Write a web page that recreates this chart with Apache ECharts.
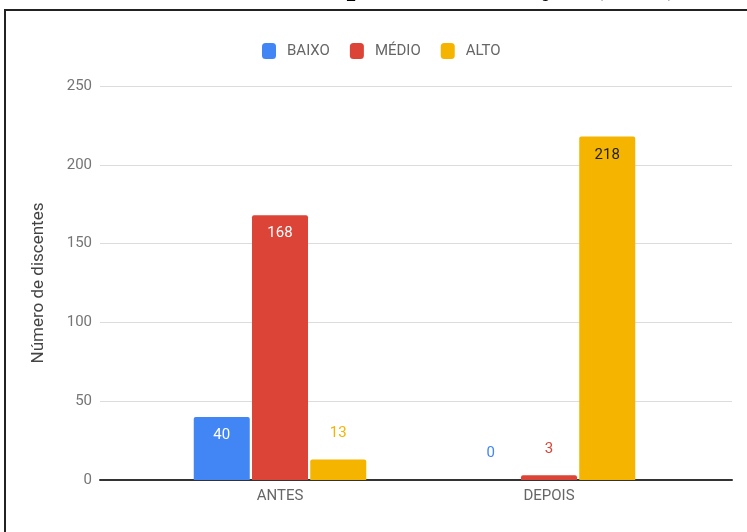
<!DOCTYPE html>
<html>
<head>
<meta charset="utf-8">
<script src="https://cdn.jsdelivr.net/npm/echarts@6/dist/echarts.min.js"></script>
<style>
html,body{margin:0;padding:0;background:#fff;}
#c{width:747px;height:532px;}
</style>
</head>
<body>
<div id="c"></div>
<script>
const titleText = 'sobre o NV antes e após a intervenção (2024)';
const categories = ['ANTES', 'DEPOIS'];
const seriesNames = ['BAIXO', 'MÉDIO', 'ALTO'];
const baixo = [40, 0];
const medio = [168, 3];
const alto = [13, 218];
const yTicks = [0, 50, 100, 150, 200, 250];
const yName = 'Número de discentes';

const colors = ['#4285f4', '#db4437', '#f4b400'];
const font = 'Roboto, "Noto Sans", sans-serif';

function mkData(values, sIdx) {
  return values.map(function (v) {
    const inside = v >= 30;
    const lblColor = inside ? (sIdx === 2 ? '#222' : '#fff') : colors[sIdx];
    return {
      value: v,
      label: {
        show: true,
        position: inside ? 'insideTop' : 'top',
        distance: inside ? 11 : 19,
        color: lblColor,
        fontFamily: font,
        fontSize: 15
      }
    };
  });
}

const chart = echarts.init(document.getElementById('c'), null, {renderer: 'canvas'});
const seriesData = [baixo, medio, alto];
chart.setOption({
  backgroundColor: '#fff',
  animation: false,
  color: colors,
  title: {
    text: titleText,
    left: 'center',
    top: -35,
    textStyle: {fontFamily: '"Liberation Serif", serif', fontWeight: 'bold', fontSize: 32, color: '#000'}
  },
  graphic: [{
    type: 'rect',
    shape: {x: 5, y: 10, width: 800, height: 600},
    style: {fill: 'none', stroke: '#222', lineWidth: 2},
    silent: true,
    z: 100
  }],
  legend: {
    top: 38,
    left: 257,
    itemWidth: 14,
    itemHeight: 16,
    itemGap: 20,
    icon: 'roundRect',
    textStyle: {fontFamily: font, fontSize: 15, color: '#666', padding: [0, 0, 0, 6]},
    data: seriesNames
  },
  grid: [
    {left: 100, right: 15, top: 86, bottom: 52},
    {left: 145.5, right: 63.5, top: 86, bottom: 52}
  ],
  xAxis: [
    {
      gridIndex: 0, type: 'value', min: 0, max: 1,
      axisLine: {show: true, onZero: false, lineStyle: {color: '#333', width: 2}},
      axisTick: {show: false}, axisLabel: {show: false}, splitLine: {show: false}
    },
    {
      gridIndex: 1, type: 'category', data: categories,
      axisLine: {show: false}, axisTick: {show: false},
      axisLabel: {fontFamily: font, fontSize: 15, color: '#666', margin: 9}
    }
  ],
  yAxis: [
    {
      gridIndex: 0, type: 'value', min: yTicks[0], max: yTicks[yTicks.length - 1], interval: 50,
      name: yName, nameLocation: 'middle', nameGap: 53,
      nameTextStyle: {fontFamily: font, fontSize: 17, color: '#444'},
      axisLine: {show: false}, axisTick: {show: false},
      axisLabel: {fontFamily: font, fontSize: 15, color: '#757575', margin: 8},
      splitLine: {lineStyle: {color: '#dcdcdc', width: 1}}
    },
    {
      gridIndex: 1, type: 'value', min: yTicks[0], max: yTicks[yTicks.length - 1], interval: 50,
      axisLine: {show: false}, axisTick: {show: false}, axisLabel: {show: false}, splitLine: {show: false}
    }
  ],
  series: seriesNames.map(function (n, i) {
    return {
      name: n,
      type: 'bar',
      xAxisIndex: 1,
      yAxisIndex: 1,
      barWidth: 56,
      barGap: '4%',
      itemStyle: {color: colors[i], borderRadius: [2, 2, 0, 0]},
      data: mkData(seriesData[i], i)
    };
  })
});
</script>
</body>
</html>
